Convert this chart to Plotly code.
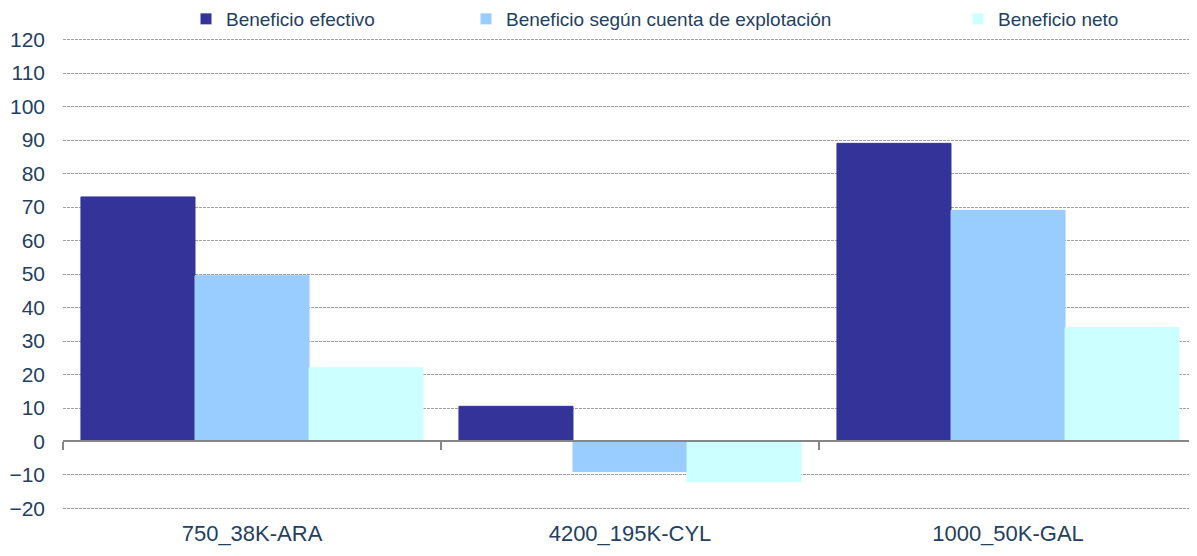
import plotly.graph_objects as go

categories = ["750_38K-ARA", "4200_195K-CYL", "1000_50K-GAL"]
series_names = ["Beneficio efectivo", "Beneficio según cuenta de explotación", "Beneficio neto"]
beneficio_efectivo = [73, 10.5, 89]
beneficio_cuenta = [49.5, -9, 69]
beneficio_neto = [22, -12, 34]
colors = ["#333399", "#99CCFF", "#CCFFFF"]
y_ticks = list(range(-20, 121, 10))
y_min, y_max = -20, 120

font_color = "#243F60"
FS_LEG = 19
FS_Y = 21
FS_X = 22
# page body has an 8px margin, so the figure is sized/offset accordingly
W, H = 1189, 548
ML, MR, MT, MB = 55, 0, 30, 46
plot_w = W - ML - MR
plot_h = H - MT - MB
pad = 0.45
r0, r1 = y_min - pad, y_max + pad

# legend placement (pixel x of each legend box's left edge, figure coords)
legend_px = [178, 458, 950]
legend_ids = ["legend", "legend2", "legend3"]

fig = go.Figure()
for name, vals, col, lid in zip(series_names, [beneficio_efectivo, beneficio_cuenta, beneficio_neto], colors, legend_ids):
    fig.add_trace(go.Bar(x=categories, y=vals, name=name, marker=dict(color=col, line=dict(color=col, width=1)),
                         showlegend=False))
    fig.add_trace(go.Scatter(x=[None], y=[None], mode="markers", name=name, legend=lid,
                             marker=dict(symbol="square", size=11, color=col), showlegend=True))

# axis line at zero with ticks on category boundaries
fig.add_trace(go.Bar(x=categories, y=[0, 0, 0], xaxis="x2", showlegend=False, hoverinfo="skip",
                     marker=dict(color="rgba(0,0,0,0)")))

leg_y = 1 + (MT - 11) / plot_h
legends = {}
for lid, px in zip(legend_ids, legend_px):
    legends[lid] = dict(orientation="h", x=(px - ML) / plot_w, xanchor="left", y=leg_y, yanchor="middle",
                        font=dict(size=FS_LEG, color=font_color), itemwidth=30, bgcolor="rgba(0,0,0,0)")

fig.update_layout(
    width=W, height=H,
    margin=dict(l=ML, r=MR, t=MT, b=MB, autoexpand=False),
    paper_bgcolor="white", plot_bgcolor="white",
    barmode="group", bargap=0.095, bargroupgap=0,
    font=dict(family="Liberation Sans, Arial", size=FS_LEG, color=font_color),
    xaxis=dict(showline=False, showgrid=False, ticks="", ticklabelstandoff=8,
               tickfont=dict(size=FS_X, color=font_color)),
    xaxis2=dict(overlaying="x", anchor="free", position=(0 - r0) / (r1 - r0),
                showline=True, linecolor="#868686", linewidth=1.5, ticks="outside", tickson="boundaries",
                ticklen=8, tickcolor="#868686", tickwidth=1.5, showticklabels=False, showgrid=False, matches="x"),
    yaxis=dict(range=[r0, r1], tickvals=y_ticks, showgrid=True, gridcolor="#A0A0A0",
               griddash="3px,1px", gridwidth=1, zeroline=False, showline=False, ticks="", ticklabelstandoff=17,
               tickfont=dict(size=FS_Y, color=font_color)),
    **legends,
)
fig.write_html("out.html")
